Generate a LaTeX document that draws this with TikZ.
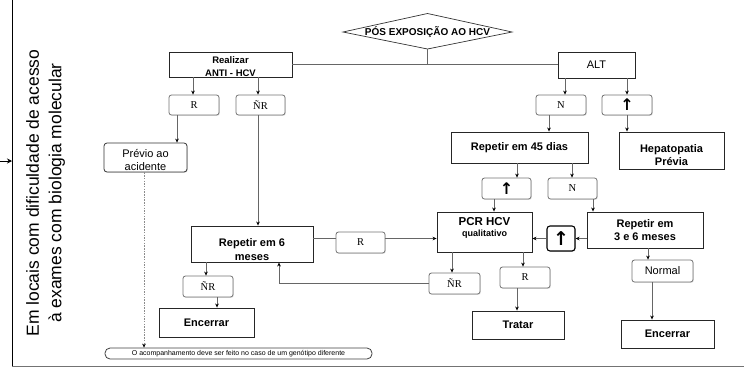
\documentclass[tikz,border=0pt]{standalone}
\usepackage{fontspec}
\setmainfont{Liberation Sans}
\newfontfamily\serifR{Liberation Serif}
\newfontfamily\symfont{DejaVu Sans}
\usetikzlibrary{arrows.meta,calc,shadows}

\begin{document}
\begin{tikzpicture}[x=1pt,y=-1pt,
  sz/.style 2 args={minimum width=#1pt, minimum height=#2pt},
  softshadow/.style={drop shadow={shadow xshift=0.8pt, shadow yshift=-0.8pt, opacity=0.25}},
  box/.style={draw=black!85, line width=0.9pt, fill=white, inner sep=0pt, softshadow},
  rbox/.style={draw=black!55, line width=0.8pt, fill=white, rounded corners=2.5pt,
    inner sep=0pt, font=\serifR\fontsize{10.5}{11}\selectfont, softshadow},
  ttl/.style={font=\bfseries\fontsize{11}{13}\selectfont, align=center, inner sep=0pt},
  plain/.style={font=\fontsize{11}{13}\selectfont, align=center, inner sep=0pt},
  upsym/.style={font=\symfont\bfseries\fontsize{16}{16}\selectfont},
  conn/.style={draw=black!60, line width=0.7pt},
  arr/.style={conn, -{Stealth[length=4pt,width=3.6pt,black]}},
  trunk/.style={draw=black!60, line width=1.4pt}
]
\useasboundingbox (0,0) rectangle (744,370);

% frame on the left and at the bottom
\coordinate (frameT) at (12,0);
\coordinate (frameB) at (12,366.5);
\coordinate (inL) at (0,161);
\draw[line width=0.9pt] (frameT) -- (frameB);
\draw[line width=1.8pt, black!55] (frameB) -- (744,366.5);
\draw[line width=1pt, -{Stealth[length=5pt,width=5pt]}] (inL) -- (inL -| frameT);

% rotated side caption
\node[rotate=90, font=\fontsize{17.5}{22.5}\selectfont, align=center, inner sep=0pt] (side) at (45.5,193)
  {Em locais com dificuldade de acesso\\à exames com biologia molecular};

% start decision
\node[font=\bfseries\fontsize{10}{11}\selectfont, inner sep=0pt] (pos) at (427.5,32) {PÓS EXPOSIÇÃO AO HCV};
\coordinate (posW) at (343,32);
\coordinate (posN) at (427.5,13.5);
\coordinate (posE) at (512,32);
\coordinate (posS) at (427.5,49);
\draw[line width=0.7pt, black!80] (posW) -- (posN) -- (posE) -- (posS) -- cycle;

% boxes
\node[box, sz={123}{25}] (real) at (230.5,64.5) {};
\node[font=\bfseries\fontsize{9.5}{12.5}\selectfont, align=center, inner sep=0pt] (realt) at (230.5,66.5) {Realizar\\ANTI - HCV};
\node[box, sz={77}{26}, plain] (alt) at (596.5,65) {ALT};

\node[rbox, sz={50}{20}] (rA) at (194,105) {R};
\node[rbox, sz={49}{20}] (nrA) at (260.5,105) {ÑR};
\node[rbox, sz={50}{20}] (nB) at (561,105) {N};
\node[rbox, sz={50}{20}, upsym] (upB) at (627,105) {↑};

\node[draw=black!80, line width=0.8pt, rounded corners=3pt, fill=white, inner sep=0pt, sz={83}{29}, softshadow] (prev) at (145.5,157.5) {};
\node[plain] (prevt) at (145.5,160) {Prévio ao\\acidente};

\node[box, sz={137}{31}, ttl] (rep45) at (519.5,147.5) {Repetir em 45 dias};
\node[box, sz={105}{37}] (hep) at (671.5,150.5) {};
\node[ttl] (hept) at (671.5,155) {Hepatopatia\\Prévia};

\node[rbox, sz={49}{21}, upsym] (upC) at (506.5,188.5) {↑};
\node[rbox, sz={49}{21}] (nC) at (572.5,188.5) {N};

\node[box, sz={95}{40}] (pcr) at (484.5,232) {};
\node[font=\bfseries, align=center, inner sep=0pt] (pcrt) at (484.5,228)
  {{\fontsize{11.5}{12}\selectfont PCR HCV}\\[-1pt]{\fontsize{9}{10}\selectfont qualitativo}};

\node[box, sz={116}{36}, ttl] (rep36) at (645,230) {Repetir em\\3 e 6 meses};
\node[draw=black, line width=1.1pt, rounded corners=3pt, fill=white, inner sep=0pt, sz={28}{25},
  font=\symfont\bfseries\fontsize{19}{19}\selectfont, softshadow] (upD) at (561,238.5) {↑};

\node[box, sz={122}{36}] (rep6) at (252,244) {};
\node[ttl, font=\bfseries\fontsize{11}{14}\selectfont] (rep6t) at (252,250) {Repetir em 6\\meses};
\node[rbox, sz={49}{21}] (r6R) at (360.5,242.5) {R};

\node[rbox, sz={51}{21}] (nrD) at (454.5,283.5) {ÑR};
\node[rbox, sz={50}{21}] (rD) at (525,277.5) {R};
\node[box, sz={92}{28}, ttl] (tratar) at (518,325) {Tratar};

\node[rbox, sz={61}{22}, plain] (normal) at (662.5,271) {Normal};
\node[box, sz={93}{28}, ttl] (enc2) at (667.5,334) {Encerrar};

\node[rbox, sz={50}{21}] (nrE) at (208,286.5) {ÑR};
\node[box, sz={95}{29}, ttl] (enc1) at (206.5,322.5) {Encerrar};

\node[draw=black!75, line width=0.8pt, rounded corners=5pt, fill=white, inner sep=0pt, sz={267}{11},
  font=\fontsize{7}{8}\selectfont] (note) at (238.5,353.5)
  {O acompanhamento deve ser feito no caso de um genótipo diferente};

% trunk joining the two branches
\draw[trunk] (posS) -- (posS |- real.east);
\draw[trunk] (real.east) -- (real.east -| alt.west);

% connectors
\draw[arr] (193,0 |- real.south) -- (193,0 |- rA.north);
\draw[arr] (258,0 |- real.south) -- (258,0 |- nrA.north);
\draw[arr] (565,0 |- alt.south) -- (565,0 |- nB.north);
\draw[arr] (627,0 |- alt.south) -- (627,0 |- upB.north);
\draw[arr] (177,0 |- rA.south) -- (177,0 |- prev.north);
\draw[arr] (258,0 |- nrA.south) -- (258,0 |- rep6.north);
\draw[arr] (549,0 |- nB.south) -- (549,0 |- rep45.north);
\draw[arr] (627,0 |- upB.south) -- (627,0 |- hep.north);
\draw[arr] (517,0 |- rep45.south) -- (517,0 |- upC.north);
\draw[arr] (572,0 |- rep45.south) -- (572,0 |- nC.north);
\draw[arr] (494,0 |- upC.south) -- (494,0 |- pcr.north);
\draw[arr] (593,0 |- nC.south) -- (593,0 |- rep36.north);
\draw[arr] (rep36.west |- upD) -- (upD.east);
\draw[arr] (upD.west) -- (upD.west -| pcr.east);
\draw[conn] (rep6.east |- 0,238.5) -- (r6R.west |- 0,238.5);
\draw[arr] (r6R.east |- 0,238.5) -- (pcr.west |- 0,238.5);
\draw[arr] (452,0 |- pcr.south) -- (452,0 |- nrD.north);
\draw[arr] (523,0 |- pcr.south) -- (523,0 |- rD.north);
\draw[arr] (nrD.west) -- (nrD.west -| 279,0) -- (279,0 |- rep6.south);
\draw[arr] (517,0 |- rD.south) -- (517,0 |- tratar.north);
\draw[arr] (648,0 |- rep36.south) -- (648,0 |- normal.north);
\draw[arr] (652,0 |- normal.south) -- (652,0 |- enc2.north);
\draw[arr] (206,0 |- rep6.south) -- (206,0 |- nrE.north);
\draw[arr] (217,0 |- nrE.south) -- (217,0 |- enc1.north);
\draw[arr, black!45, dash pattern=on 1.5pt off 1.2pt, line width=0.5pt] (144,0 |- prev.south) -- (144,0 |- note.north);
\end{tikzpicture}
\end{document}
